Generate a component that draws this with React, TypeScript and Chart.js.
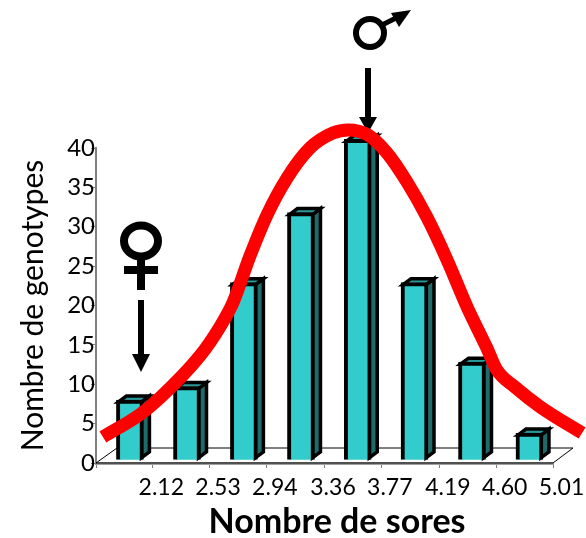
import React, { useEffect, useRef } from "react";
import { Chart, registerables } from "chart.js";

Chart.register(...registerables);

const xTickValues = [1.71, 2.12, 2.53, 2.94, 3.36, 3.77, 4.19, 4.6, 5.01];
const binCentres = [1.955, 2.367, 2.778, 3.19, 3.6, 4.01, 4.425, 4.84];
const genotypeCounts = [8, 9.7, 22.9, 31.8, 41.1, 22.9, 12.8, 3.8];
const curveX = [1.76, 2.03, 2.17, 2.46, 2.605, 2.7, 2.82, 2.945, 3.09, 3.255, 3.42, 3.53, 3.67, 3.81, 3.955, 4.1, 4.245, 4.39, 4.53, 4.605, 4.735, 4.92, 5.22];
const curveY = [3.3, 6.2, 8.25, 13.6, 17.3, 20.4, 26.2, 31.5, 36.2, 40, 41.9, 42.3, 41.7, 39.4, 35.7, 31.2, 25.8, 19.8, 14.7, 11.8, 9.65, 7.1, 3.8];
const xAxisTitle = "Nombre de sores";

const FONT = "Lato, 'Open Sans', sans-serif";

const decor = {
  id: "decor",
  beforeDatasetsDraw(chart: any) {
    const { ctx } = chart;
    const x = chart.scales.x;
    const y = chart.scales.y;
    const y0 = y.getPixelForValue(0);
    const l = x.left;
    const r = x.right;
    ctx.save();
    ctx.strokeStyle = "#000";
    ctx.lineWidth = 1;
    ctx.beginPath();
    ctx.moveTo(l, y0);
    ctx.lineTo(l + 21, y0 - 15);
    ctx.lineTo(r + 20, y0 - 15);
    ctx.lineTo(r, y0);
    ctx.lineTo(l, y0);
    ctx.stroke();
    ctx.restore();
  },
  beforeDatasetDraw(chart: any, args: any) {
    if (args.index !== 0) return;
    const { ctx } = chart;
    const dx = 8;
    const dy = 6;
    ctx.save();
    ctx.lineWidth = 3.5;
    ctx.lineJoin = "miter";
    ctx.strokeStyle = "#000";
    for (const bar of chart.getDatasetMeta(0).data) {
      const p = bar.getProps(["x", "y", "base", "width"], true);
      const R = p.x + p.width / 2 - 2;
      const L = p.x - p.width / 2 + 2;
      const T = p.y + 2;
      const B = p.base - 2;
      ctx.fillStyle = "#1F6B6B";
      ctx.beginPath();
      ctx.moveTo(R, T);
      ctx.lineTo(R + dx, T - dy);
      ctx.lineTo(R + dx, B - dy);
      ctx.lineTo(R, B);
      ctx.closePath();
      ctx.fill();
      ctx.stroke();
      ctx.fillStyle = "#2A9999";
      ctx.beginPath();
      ctx.moveTo(L, T);
      ctx.lineTo(L + dx, T - dy);
      ctx.lineTo(R + dx, T - dy);
      ctx.lineTo(R, T);
      ctx.closePath();
      ctx.fill();
      ctx.stroke();
    }
    ctx.restore();
  },
  afterDraw(chart: any) {
    const { ctx } = chart;
    ctx.save();
    ctx.fillStyle = "#000";
    ctx.strokeStyle = "#000";
    ctx.font = `bold 34px ${FONT}`;
    ctx.textAlign = "center";
    ctx.textBaseline = "middle";
    ctx.fillText(xAxisTitle, 337, 522);
    const arrow = (ax: number, y1: number, y2: number, tip: number, hw: number) => {
      ctx.fillRect(ax - 3, y1, 6, y2 - y1);
      ctx.beginPath();
      ctx.moveTo(ax - hw, y2);
      ctx.lineTo(ax + hw, y2);
      ctx.lineTo(ax, tip);
      ctx.closePath();
      ctx.fill();
    };
    arrow(141, 300, 354, 372, 9);

    // male symbol
    ctx.lineWidth = 6;
    ctx.beginPath();
    ctx.arc(370, 33, 14, 0, Math.PI * 2);
    ctx.stroke();
    ctx.lineWidth = 5;
    ctx.beginPath();
    ctx.moveTo(382, 25);
    ctx.lineTo(396, 18);
    ctx.stroke();
    ctx.beginPath();
    ctx.moveTo(391, 13);
    ctx.lineTo(411, 10);
    ctx.lineTo(399, 27);
    ctx.closePath();
    ctx.fill();

    // female symbol
    ctx.lineWidth = 8;
    ctx.beginPath();
    ctx.ellipse(141, 241, 17, 15.5, 0, 0, Math.PI * 2);
    ctx.stroke();
    ctx.fillRect(137, 258, 8, 32);
    ctx.fillRect(124, 266, 34, 8);
    ctx.restore();
  },
  afterDatasetDraw(chart: any, args: any) {
    if (args.index !== 0) return;
    const { ctx } = chart;
    ctx.save();
    ctx.fillStyle = "#000";
    ctx.fillRect(365, 68, 6, 49);
    ctx.beginPath();
    ctx.moveTo(359, 117);
    ctx.lineTo(377, 117);
    ctx.lineTo(368, 133);
    ctx.closePath();
    ctx.fill();
    ctx.restore();
  },
};

export default function App() {
  const ref = useRef<HTMLCanvasElement>(null);
  useEffect(() => {
    const chart = new Chart(ref.current as HTMLCanvasElement, {
      type: "bar",
      plugins: [decor],
      data: {
        datasets: [
          {
            type: "bar",
            data: binCentres.map((x, i) => ({ x, y: genotypeCounts[i] })),
            base: 0.4,
            barThickness: 27,
            backgroundColor: "#33CCCC",
            borderColor: "#000",
            borderWidth: 4,
            clip: false,
            order: 2,
          },
          {
            type: "line",
            data: curveX.map((x, i) => ({ x, y: curveY[i] })),
            borderColor: "#FF0000",
            borderWidth: 13,
            pointRadius: 0,
            cubicInterpolationMode: "monotone",
            clip: false,
            order: 1,
          },
        ],
      } as any,
      options: {
        responsive: false,
        animation: false,
        layout: { padding: { left: 0, top: 148, right: 33, bottom: 0 } },
        plugins: { legend: { display: false }, tooltip: { enabled: false } },
        scales: {
          x: {
            type: "linear",
            offset: false,
            min: 1.71,
            max: 5.01,
            afterBuildTicks(scale: any) {
              scale.ticks = xTickValues.map((value) => ({ value }));
            },
            afterFit(scale: any) {
              scale.height = 75;
            },
            grid: { offset: false, drawOnChartArea: false, color: "#808080", tickLength: 5 },
            border: { color: "#A0A0A0", width: 3 },
            ticks: {
              autoSkip: false,
              maxRotation: 0,
              labelOffset: 8.5,
              padding: 6,
              color: "#000",
              font: { family: FONT, size: 23 },
              callback: (v: any) => (v === xTickValues[0] ? "" : Number(v).toFixed(2)),
            },
          },
          y: {
            min: 0,
            max: 40,
            afterFit(scale: any) {
              scale.width = 96;
            },
            grid: { drawOnChartArea: false, color: "#808080", tickLength: 5 },
            border: { color: "#808080", width: 2 },
            ticks: {
              stepSize: 5,
              padding: -4,
              color: "#000",
              font: { family: FONT, size: 24 },
            },
            title: {
              display: true,
              text: "Nombre de genotypes",
              color: "#000",
              font: { family: FONT, size: 30 },
              padding: { top: 15, bottom: 0 },
            },
          },
        },
      } as any,
    });
    return () => chart.destroy();
  }, []);
  return (
    <canvas
      ref={ref}
      width={586}
      height={538}
      style={{ position: "absolute", left: 0, top: 0, display: "block" }}
    />
  );
}
